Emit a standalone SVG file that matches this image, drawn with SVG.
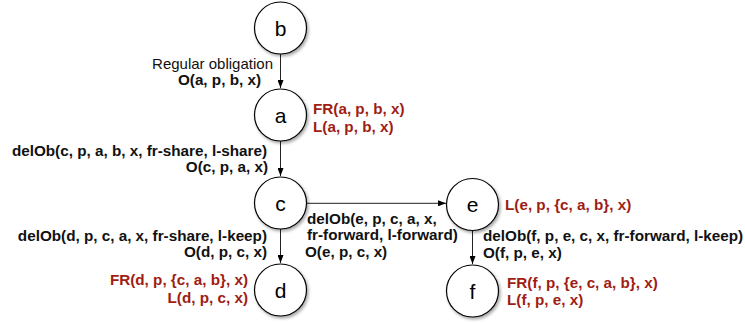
<svg xmlns="http://www.w3.org/2000/svg" width="745" height="323" viewBox="0 0 745 323">
<style>
.node circle{fill:#fff;stroke:#000;stroke-width:1.2;filter:url(#sh)}
.node text{font-family:"Liberation Sans",Arial,sans-serif;font-size:21px;text-anchor:middle;fill:#000}
.lbl{font-family:"Liberation Sans",Arial,sans-serif;font-size:15px;fill:#111}
.b{font-weight:bold;font-size:15.25px}
.red{fill:#9e1d14;font-weight:bold;font-size:15.25px}
.end{text-anchor:end}
.conn line{stroke:#222;stroke-width:1;marker-end:url(#ah)}
</style>
<defs>
<filter id="sh" x="-30%" y="-30%" width="170%" height="170%">
<feDropShadow dx="1.5" dy="2" stdDeviation="1.5" flood-color="#000" flood-opacity="0.35"/>
</filter>
<marker id="ah" viewBox="0 0 8 6" refX="8" refY="3" markerWidth="8" markerHeight="6" markerUnits="userSpaceOnUse" orient="auto">
<path d="M0,0 L8,3 L0,6 Z" fill="#000"/>
</marker>
</defs>
<g id="connectors" class="conn">
<line x1="280.5" y1="54" x2="280.5" y2="88"/>
<line x1="280.5" y1="141" x2="280.5" y2="176"/>
<line x1="280.5" y1="229" x2="280.5" y2="263"/>
<line x1="306" y1="203.3" x2="446" y2="203.3"/>
<line x1="472.5" y1="230" x2="472.5" y2="264"/>
</g>
<g id="node-b" class="node"><circle cx="280.5" cy="28" r="26"/><text x="280.5" y="35.5">b</text></g>
<g id="node-a" class="node"><circle cx="280.5" cy="115" r="26"/><text x="280.5" y="122.5">a</text></g>
<g id="node-c" class="node"><circle cx="280.5" cy="203" r="26"/><text x="280.5" y="210.5">c</text></g>
<g id="node-d" class="node"><circle cx="280.5" cy="290" r="26"/><text x="280.5" y="297.5">d</text></g>
<g id="node-e" class="node"><circle cx="472.5" cy="204.5" r="26"/><text x="472.5" y="212">e</text></g>
<g id="node-f" class="node"><circle cx="472.5" cy="291" r="26"/><text x="472.5" y="298.5">f</text></g>
<g id="labels">
<text class="lbl end" x="273" y="69">Regular obligation</text>
<text class="lbl b end" x="261" y="85">O(a, p, b, x)</text>
<text class="lbl red" x="313" y="114">FR(a, p, b, x)</text>
<text class="lbl red" x="313" y="132">L(a, p, b, x)</text>
<text class="lbl b end" x="267" y="156">delOb(c, p, a, b, x, fr-share, l-share)</text>
<text class="lbl b end" x="268" y="172">O(c, p, a, x)</text>
<text class="lbl b end" x="267" y="241">delOb(d, p, c, a, x, fr-share, l-keep)</text>
<text class="lbl b end" x="267" y="257">O(d, p, c, x)</text>
<text class="lbl red end" x="248" y="285">FR(d, p, {c, a, b}, x)</text>
<text class="lbl red end" x="248" y="303">L(d, p, c, x)</text>
<text class="lbl b" x="307" y="224">delOb(e, p, c, a, x,</text>
<text class="lbl b" x="307" y="240">fr-forward, l-forward)</text>
<text class="lbl b" x="305" y="257">O(e, p, c, x)</text>
<text class="lbl red" x="505" y="210">L(e, p, {c, a, b}, x)</text>
<text class="lbl b" x="483" y="241">delOb(f, p, e, c, x, fr-forward, l-keep)</text>
<text class="lbl b" x="483" y="258">O(f, p, e, x)</text>
<text class="lbl red" x="507" y="288">FR(f, p, {e, c, a, b}, x)</text>
<text class="lbl red" x="507" y="305">L(f, p, e, x)</text>
</g>
</svg>
